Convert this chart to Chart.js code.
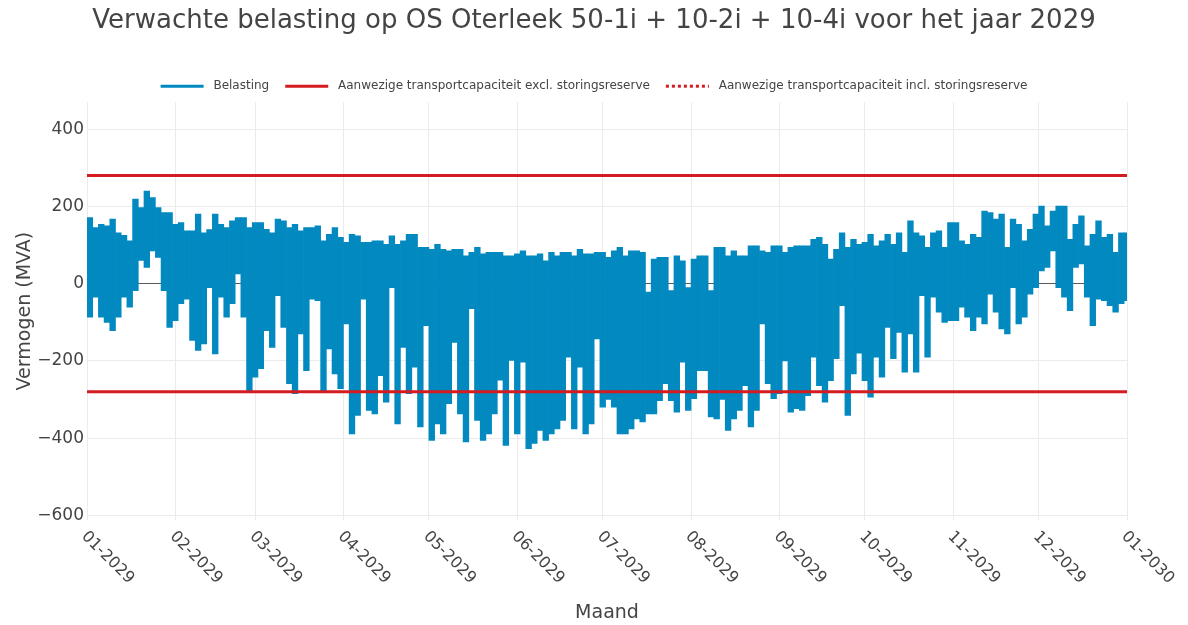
<!DOCTYPE html>
<html>
<head>
<meta charset="utf-8">
<script src="https://cdn.jsdelivr.net/npm/chart.js@4"></script>
<style>
    html, body { margin: 0; padding: 0; background: #fff; }
    canvas { display: block; }
</style>
</head>
<body>
<canvas id="grafiek" width="1188" height="625"></canvas>
<script>
// maanden op de x-as (dagnummer van de eerste dag van de maand)
var maandLabels = ['01-2029', '02-2029', '03-2029', '04-2029', '05-2029', '06-2029', '07-2029',
    '08-2029', '09-2029', '10-2029', '11-2029', '12-2029', '01-2030'];
var maandStartDag = [0, 31, 59, 90, 120, 151, 181, 212, 243, 273, 304, 334, 365];
var yTicks = [-600, -400, -200, 0, 200, 400];

var belastingHoog = [
    171, 145, 154, 150, 167, 132, 125, 111, 219, 197, 240, 223, 197, 184, 184, 154,
    158, 137, 137, 180, 132, 140, 180, 154, 145, 163, 171, 171, 145, 158, 158,
    141, 132, 167, 163, 145, 154, 137, 145, 145, 150, 111, 128, 145, 120, 107,
    128, 124, 107, 107, 111, 111, 102, 124, 102, 111, 128, 128, 94, 94, 89,
    102, 89, 85, 89, 89, 72, 81, 94, 77, 81, 81, 81, 72, 72, 77, 85,
    72, 72, 77, 59, 81, 72, 81, 81, 72, 89, 77, 77, 81, 81, 68,
    85, 94, 72, 85, 85, 81, -22, 64, 68, 68, -18, 72, 59, -10, 64,
    72, 72, -18, 94, 94, 72, 85, 72, 72, 98, 98, 85, 81, 98, 98,
    81, 94, 98, 98, 98, 115, 120, 102, 64, 89, 132, 94, 115, 102, 107,
    128, 98, 111, 128, 102, 132, 81, 163, 132, 124, 94, 132, 137, 94, 158,
    158, 111, 102, 128, 120, 188, 184, 167, 180, 94, 167, 154, 111, 141, 180, 201,
    150, 188, 201, 201, 115, 154, 176, 98, 128, 163, 120, 128, 81, 132, 132
];
var belastingLaag = [
    -87, -35, -87, -100, -122, -87, -35, -61, -18, 60, 42, 85, 68, -18, -113, -96,
    -52, -40, -147, -173, -156, -10, -182, -35, -87, -52, 25, -87, -277, -242, -220,
    -122, -165, -31, -113, -259, -285, -130, -225, -40, -44, -277, -169, -234, -272, -104,
    -389, -341, -40, -328, -337, -238, -307, -10, -363, -165, -285, -216, -371, -109, -406,
    -363, -389, -311, -152, -337, -410, -65, -354, -406, -389, -337, -250, -419, -199, -389, -203,
    -427, -414, -380, -406, -389, -376, -354, -190, -376, -216, -389, -363, -143, -320, -300,
    -320, -389, -389, -376, -350, -358, -337, -337, -303, -259, -303, -333, -203, -328, -298,
    -225, -225, -345, -350, -300, -380, -350, -328, -264, -371, -328, -104, -259, -298, -285,
    -200, -333, -324, -328, -290, -190, -264, -307, -251, -194, -57, -341, -234, -180, -251,
    -294, -190, -242, -113, -194, -126, -229, -130, -229, -31, -190, -35, -74, -100, -96,
    -96, -61, -87, -122, -87, -104, -27, -74, -117, -130, -10, -104, -87, -27, -10, 33,
    42, 85, -10, -35, -70, 42, 51, -35, -109, -40, -44, -57, -74, -52, -44
];

// transportcapaciteit (MVA), boven- en ondergrens
var capaciteitExcl = [280, -280];
var capaciteitIncl = [280, -280];

var blauw = '#0289c0';
var rood = '#d41b1f';
var tekstKleur = '#444';
var lettertype = '"DejaVu Sans", Verdana, sans-serif';

function vlakkeLijn(waarde) {
    return [{ x: 0, y: waarde }, { x: 365, y: waarde }];
}

function capaciteitSet(label, waarde, dash, zichtbaar) {
    return {
        type: 'line',
        label: label,
        data: vlakkeLijn(waarde),
        borderColor: rood,
        borderWidth: 3,
        borderDash: dash,
        showLine: zichtbaar,
        pointRadius: 0,
        fill: false,
        order: 1
    };
}

var belastingData = belastingHoog.map(function (hoog, i) {
    return { x: i * 2 + 1, y: [belastingLaag[i], hoog] };
});

// maandlabels schuin naar rechtsonder, zoals in het origineel
var maandAs = {
    id: 'maandAs',
    afterDraw: function (chart) {
        var ctx = chart.ctx;
        var xAs = chart.scales.x;
        var onder = chart.chartArea.bottom;
        ctx.save();
        ctx.fillStyle = tekstKleur;
        ctx.font = '16px ' + lettertype;
        ctx.textAlign = 'left';
        ctx.textBaseline = 'middle';
        for (var i = 0; i < maandStartDag.length; i++) {
            ctx.save();
            ctx.translate(xAs.getPixelForValue(maandStartDag[i]) - 3, onder + 14);
            ctx.rotate(Math.PI / 4);
            ctx.fillText(maandLabels[i], 0, 0);
            ctx.restore();
        }
        ctx.font = '19px ' + lettertype;
        ctx.textAlign = 'center';
        ctx.fillText('Maand', (chart.chartArea.left + chart.chartArea.right) / 2, 613);
        ctx.restore();
    }
};

var ctx = document.getElementById('grafiek').getContext('2d');
var grafiek = new Chart(ctx, {
    type: 'bar',
    data: {
        datasets: [{
            type: 'bar',
            label: 'Belasting',
            data: belastingData,
            backgroundColor: blauw,
            borderWidth: 0,
            barPercentage: 1,
            categoryPercentage: 1,
            order: 3
        },
        capaciteitSet('Aanwezige transportcapaciteit excl. storingsreserve', capaciteitExcl[0], [], true),
        capaciteitSet('', capaciteitExcl[1], [], true),
        // valt in het origineel samen met de lijn excl. storingsreserve
        capaciteitSet('Aanwezige transportcapaciteit incl. storingsreserve', capaciteitIncl[0], [3, 3], false),
        capaciteitSet('', capaciteitIncl[1], [3, 3], false)]
    },
    options: {
        responsive: false,
        animation: false,
        events: [],
        layout: {
            padding: 0
        },
        scales: {
            x: {
                type: 'linear',
                min: 0,
                max: 365,
                offset: false,
                grid: { color: '#ebebeb', offset: false, drawTicks: false },
                border: { display: false },
                ticks: { display: false },
                afterBuildTicks: function (scale) {
                    scale.ticks = maandStartDag.map(function (d) { return { value: d }; });
                },
                afterFit: function (scale) {
                    scale.height = 105;
                }
            },
            y: {
                min: -612,
                max: 470,
                grid: {
                    drawTicks: false,
                    color: function (context) {
                        return context.tick && context.tick.value === 0 ? '#5a5a5a' : '#ebebeb';
                    }
                },
                border: { display: false },
                ticks: {
                    padding: 3,
                    color: tekstKleur,
                    font: { family: lettertype, size: 17 },
                    callback: function (value) {
                        return value < 0 ? '\u2212' + Math.abs(value) : String(value);
                    }
                },
                afterBuildTicks: function (scale) {
                    scale.ticks = yTicks.map(function (v) { return { value: v }; });
                },
                title: {
                    display: true,
                    text: 'Vermogen (MVA)',
                    color: tekstKleur,
                    font: { family: lettertype, size: 19 },
                    padding: { top: 14, bottom: 14 }
                },
                afterFit: function (scale) {
                    scale.width = 87;
                }
            },
            // lege ruimte rechts, zodat titel en legenda over de hele breedte centreren
            rechts: {
                type: 'linear',
                position: 'right',
                display: true,
                grid: { display: false },
                border: { display: false },
                ticks: { display: false },
                afterFit: function (scale) {
                    scale.width = 61;
                }
            }
        },
        plugins: {
            title: {
                display: true,
                text: 'Verwachte belasting op OS Oterleek 50-1i + 10-2i + 10-4i voor het jaar 2029',
                color: tekstKleur,
                font: { family: lettertype, size: 26, weight: 'normal', lineHeight: 1.2 },
                padding: { top: 6, bottom: 27 }
            },
            legend: {
                display: true,
                labels: {
                    usePointStyle: true,
                    pointStyleWidth: 43,
                    padding: 16,
                    color: tekstKleur,
                    font: { family: lettertype, size: 12 },
                    generateLabels: function (chart) {
                        var items = [];
                        chart.data.datasets.forEach(function (ds, i) {
                            if (!ds.label) {
                                return;
                            }
                            var kleur = i === 0 ? blauw : rood;
                            items.push({
                                text: ' ' + ds.label,
                                datasetIndex: i,
                                fillStyle: kleur,
                                strokeStyle: kleur,
                                lineWidth: 3,
                                lineDash: ds.borderDash || [],
                                pointStyle: 'line',
                                fontColor: tekstKleur,
                                hidden: false
                            });
                        });
                        return items;
                    }
                }
            },
            tooltip: { enabled: false }
        }
    },
    plugins: [maandAs]
});
</script>
</body>
</html>
